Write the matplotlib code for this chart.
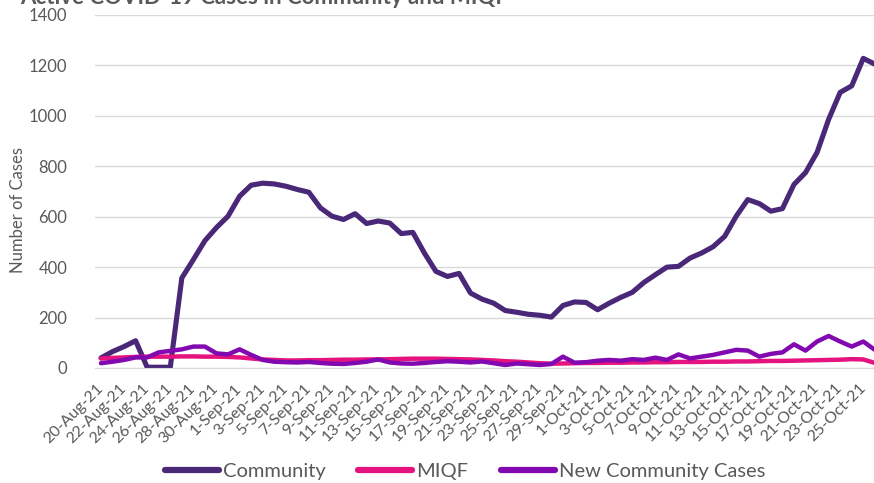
import matplotlib
matplotlib.use("Agg")
import matplotlib.pyplot as plt
import pandas as pd

dates = pd.date_range("2021-08-20", "2021-10-26", freq="D")
date_labels = [f"{d.day}-{d:%b}-{d:%y}" for d in dates]

community = [40, 65, 85, 108, 3, 3, 3, 357, 430, 505, 557, 602, 681, 725, 733, 730,
             721, 708, 697, 635, 602, 589, 612, 573, 583, 575, 533, 538, 456, 383, 363, 375,
             297, 273, 257, 228, 221, 213, 209, 202, 248, 262, 260, 231, 257, 280, 300, 339,
             370, 400, 403, 436, 456, 481, 522, 602, 668, 652, 622, 632, 728, 775, 855, 986,
             1093, 1119, 1228, 1205]
miqf = [38, 40, 42, 44, 45, 45, 45, 46, 46, 45, 45, 44, 42, 38, 34, 32,
        30, 30, 31, 31, 32, 33, 33, 34, 34, 35, 36, 37, 37, 37, 36, 35,
        34, 32, 30, 27, 25, 22, 19, 17, 18, 19, 20, 20, 21, 21, 22, 22,
        23, 23, 24, 24, 24, 25, 25, 26, 26, 27, 28, 28, 29, 30, 31, 32,
        33, 35, 34, 20]
new_community = [19, 25, 32, 42, 42, 62, 68, 74, 85, 85, 58, 54, 74, 52, 32, 25,
                 23, 22, 24, 20, 17, 16, 20, 25, 34, 22, 18, 17, 20, 24, 27, 25,
                 22, 26, 19, 12, 18, 15, 12, 16, 45, 21, 23, 29, 32, 29, 35, 32,
                 41, 32, 54, 38, 45, 52, 62, 72, 69, 45, 56, 62, 94, 69, 105, 127,
                 105, 85, 105, 72]

series_names = ["Community", "MIQF", "New Community Cases"]
colors = ["#4A2878", "#E4137F", "#8208B0"]
yticks = [0, 200, 400, 600, 800, 1000, 1200, 1400]

plt.rcParams["font.family"] = ["Lato", "DejaVu Sans"]
fig = plt.figure(figsize=(8.74, 4.83), dpi=100)
W, H = 874, 483
left_px, right_px, top_px, bot_px = 95.2, 880.6, 15, 368
ax = fig.add_axes([left_px / W, (H - bot_px) / H, (right_px - left_px) / W, (bot_px - top_px) / H])

x = list(range(len(dates)))
for vals, name, c, lw in zip([community, miqf, new_community], series_names, colors, [3.7, 3.2, 3.2]):
    ax.plot(x, vals, color=c, lw=lw, label=name, solid_joinstyle="round", solid_capstyle="round",
            clip_on=(name == "Community"))

ax.set_xlim(-0.5, len(dates) - 0.5)
ax.set_ylim(0, 1400)
ax.set_yticks(yticks)
ax.set_yticklabels([str(v) for v in yticks])
ax.grid(axis="y", color="#D9D9D9", lw=1)
ax.set_axisbelow(True)
for s in ["top", "right", "left"]:
    ax.spines[s].set_visible(False)
ax.spines["bottom"].set_color("#D9D9D9")
ax.tick_params(axis="y", length=0, pad=28 * 0.72, labelsize=12, labelcolor="#595959")
ax.set_xticks(x[::2])
ax.set_xticklabels(date_labels[::2], rotation=45, ha="right", va="center", rotation_mode="anchor")
ax.tick_params(axis="x", length=0, pad=13, labelsize=11.5, labelcolor="#595959")
ax.set_ylabel("Number of Cases", fontsize=12, color="#595959")
ax.yaxis.set_label_coords((26 - left_px) / (right_px - left_px), (bot_px - 210) / (bot_px - top_px))

fig.text(20 / W, (H - 4) / H, "Active COVID-19 Cases in Community and MIQF", fontsize=16,
         fontweight="bold", color="#595959", ha="left", va="baseline")

leg = fig.legend(loc="center", bbox_to_anchor=(465 / W, 12 / H), ncol=3, frameon=False,
                 fontsize=14.5, handlelength=2.7, columnspacing=1.6, handletextpad=0.2,
                 labelcolor="#595959")
for h in leg.get_lines():
    h.set_linewidth(4.5)

fig.savefig("out.png", dpi=100)
